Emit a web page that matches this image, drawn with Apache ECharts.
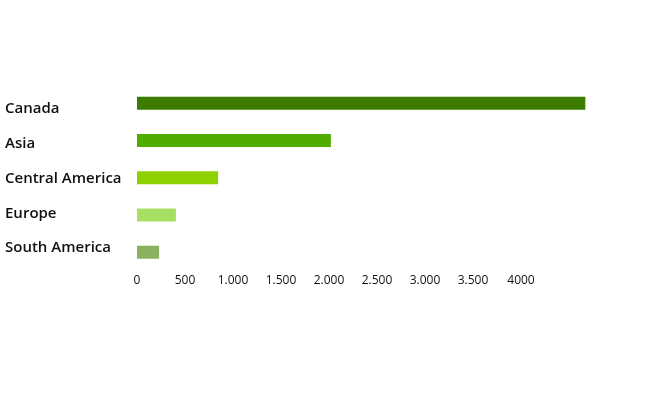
<!DOCTYPE html>
<html>
<head>
<meta charset="utf-8">
<script src="https://cdn.jsdelivr.net/npm/echarts@6/dist/echarts.min.js"></script>
<style>
html, body { margin: 0; padding: 0; background: #fff; }
#chart { width: 655px; height: 400px; }
</style>
</head>
<body>
<div id="chart"></div>
<script>
// regions, top to bottom
var regions = ['Canada', 'Asia', 'Central America', 'Europe', 'South America'];
var amounts = [4670, 2020, 845, 405, 230];
var barColors = ['#3b7c00', '#50ad00', '#8fd100', '#a5e063', '#8bb15f'];
// tick labels as written in the picture
var tickValues = [0, 500, 1000, 1500, 2000, 2500, 3000, 3500, 4000];
var tickLabels = ['0', '500', '1.000', '1.500', '2.000', '2.500', '3.000', '3.500', '4000'];

var chart = echarts.init(document.getElementById('chart'));

var option = {
    animation: false,
    grid: [
        // bars
        { left: 137, width: 480, top: 84.6, height: 186.25 },
        // region names sit a bit tighter than the bars
        { left: 137, width: 480, top: 91.7, height: 173.75 }
    ],
    xAxis: [{
        type: 'value',
        gridIndex: 0,
        min: 0,
        max: 5000,
        interval: 500,
        axisLine: { show: false },
        axisTick: { show: false },
        splitLine: { show: false },
        axisLabel: {
            margin: 4,
            color: '#111',
            fontFamily: 'Open Sans',
            fontSize: 12,
            formatter: function (v) {
                var i = tickValues.indexOf(v);
                return i < 0 ? '' : tickLabels[i];
            }
        }
    }, {
        type: 'value',
        gridIndex: 1,
        show: false
    }],
    yAxis: [{
        type: 'category',
        gridIndex: 0,
        data: regions,
        inverse: true,
        axisLine: { show: false },
        axisTick: { show: false },
        axisLabel: { show: false }
    }, {
        type: 'category',
        gridIndex: 1,
        data: regions,
        inverse: true,
        axisLine: { show: false },
        axisTick: { show: false },
        axisLabel: {
            align: 'left',
            margin: 132,
            color: '#111',
            fontFamily: 'Open Sans',
            fontWeight: 600,
            fontSize: 15
        }
    }],
    series: [{
        type: 'bar',
        barWidth: 13,
        data: amounts.map(function (v, i) {
            return { value: v, itemStyle: { color: barColors[i] } };
        })
    }]
};

chart.setOption(option);
</script>
</body>
</html>
